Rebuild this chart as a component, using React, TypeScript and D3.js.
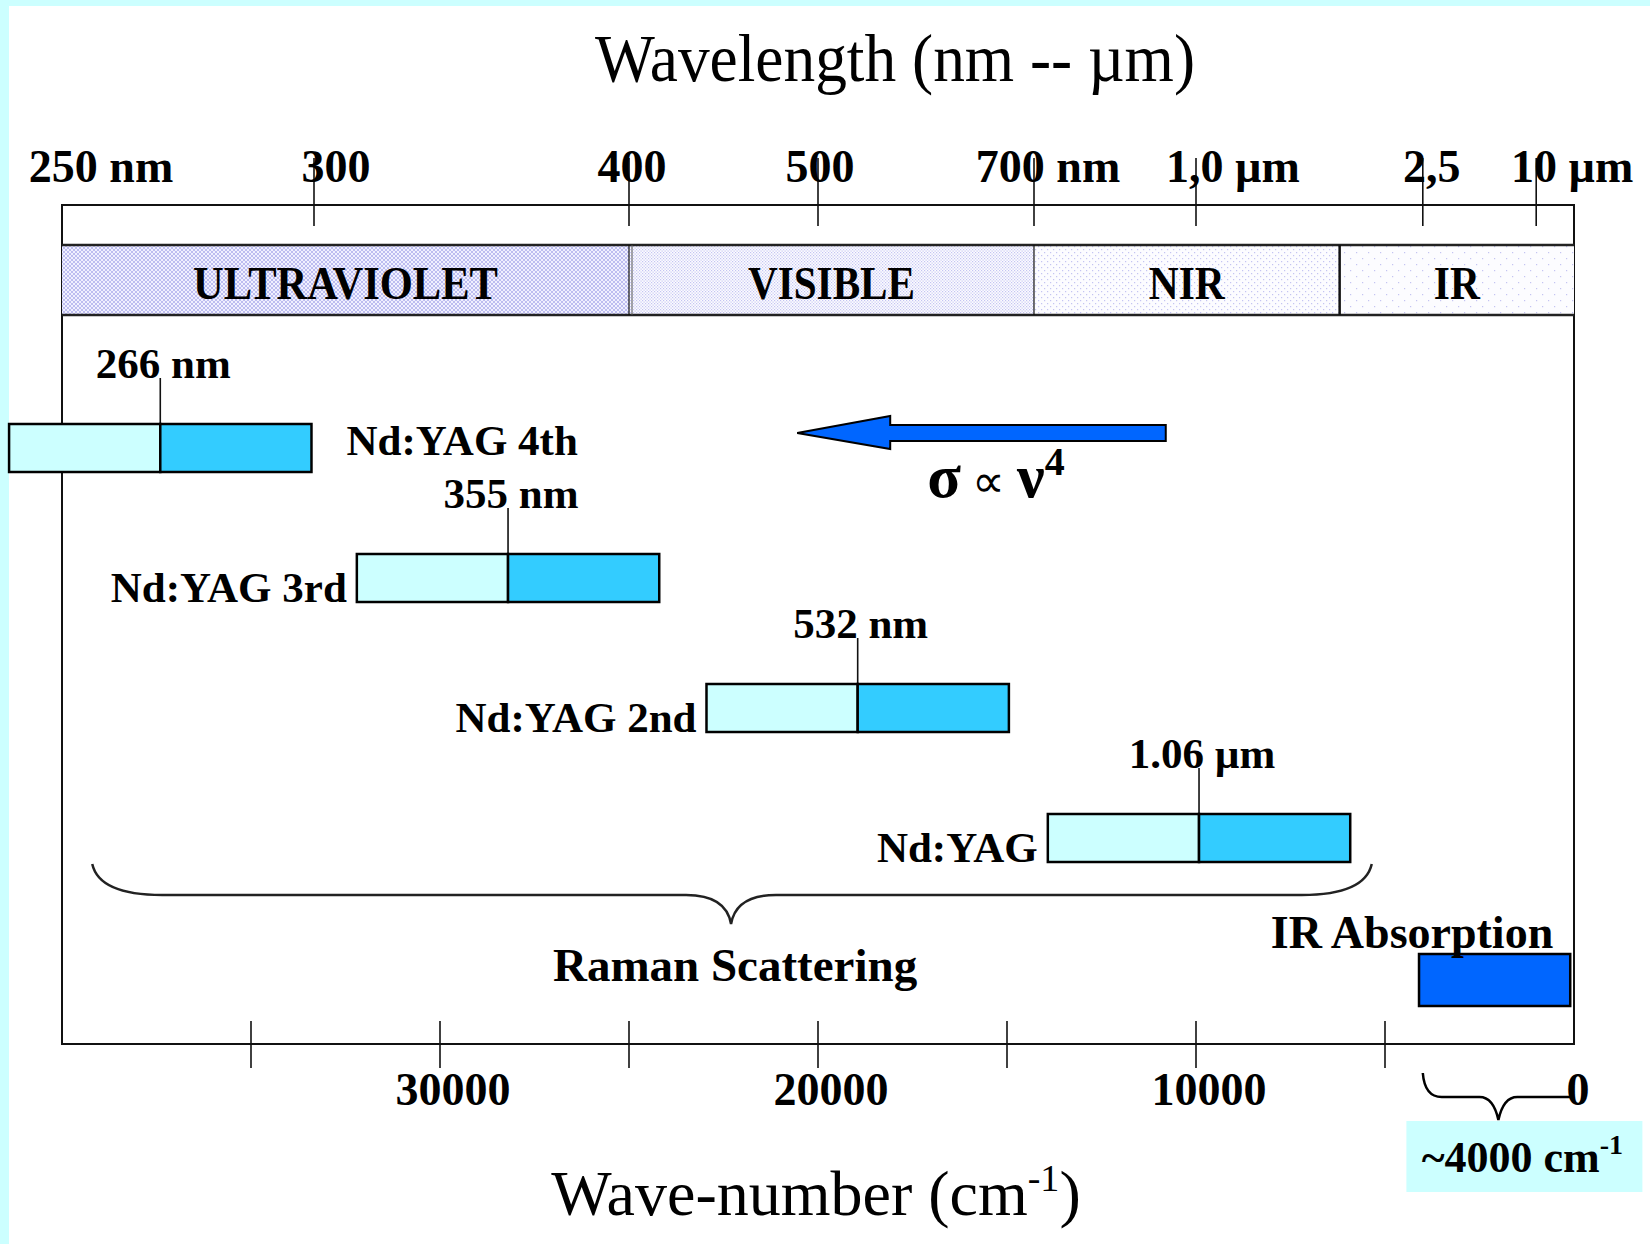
import * as d3 from "d3";
import { useEffect, useRef } from "react";

const WIDTH = 1650;
const HEIGHT = 1244;
const FONT = "'Liberation Serif', 'Times New Roman', serif";

// top axis: wavelengths, placed on the wavenumber scale (1e7 / nm)
const wavelengthNm = [250, 300, 400, 500, 700, 1000, 2500, 10000];
const wavelengthLabels = ["250 nm", "300", "400", "500", "700 nm", "1,0 µm", "2,5", "10 µm"];
const wavelengthLabelDx = [39, 22, 3, 2, 14, 37, 9, 36];

// spectral regions, edges in cm-1
const regionNames = ["ULTRAVIOLET", "VISIBLE", "NIR", "IR"];
const regionEdges = [40000, 25000, 14286, 6200, 0];
const regionPatterns = ["uv", "vis", "nir", "ir"];
const regionTextLength = [305, 167, 76, 46];

// lasers: excitation line (cm-1) with a +-4000 cm-1 Raman window
const laserNames = ["Nd:YAG 4th", "Nd:YAG 3rd", "Nd:YAG 2nd", "Nd:YAG"];
const laserLines = ["266 nm", "355 nm", "532 nm", "1.06 µm"];
const laserWavenumbers = [37400, 28200, 18950, 9920];
const ramanWindow = 4000;

const irAbsorption = [4100, 100];
const arrowSpan = [10800, 20550]; // tail -> head, cm-1
const ramanBrace = [39200, 22300, 5350]; // left, tip, right
const irBrace = [4000, 2000, 0];

const wavenumberTicks = [35000, 30000, 25000, 20000, 15000, 10000, 5000];
const wavenumberLabels = [30000, 20000, 10000, 0];

function bracePath(xl: number, xt: number, xr: number, yEnd: number, yMid: number, yTip: number, curlRight = true) {
    const curl = Math.min(70, (xt - xl) / 4);
    const cusp = Math.min(45, (xt - xl) / 4);
    const p = d3.path();
    p.moveTo(xl, yEnd);
    p.quadraticCurveTo(xl + curl * 0.1, yMid, xl + curl, yMid);
    p.lineTo(xt - cusp, yMid);
    p.quadraticCurveTo(xt - 5, yMid, xt, yTip);
    p.quadraticCurveTo(xt + 5, yMid, xt + cusp, yMid);
    if (curlRight) {
        p.lineTo(xr - curl, yMid);
        p.quadraticCurveTo(xr - curl * 0.1, yMid, xr, yEnd);
    } else {
        p.lineTo(xr, yMid);
    }
    return p.toString();
}

export default function App() {
    const svgRef = useRef<SVGSVGElement | null>(null);

    useEffect(() => {
        if (!svgRef.current) return;
        const svg = d3.select(svgRef.current);
        svg.selectAll("*").remove();

        const x = d3.scaleLinear().domain([40000, 0]).range([62, 1574]);
        const box = { top: 205, bottom: 1044 };
        const band = { top: 245, bottom: 315 };
        const row = d3.scalePoint<string>().domain(laserNames).range([424, 814]);
        const barH = 48;

        svg.attr("width", WIDTH).attr("height", HEIGHT).style("font-family", FONT);

        // page
        svg.append("rect").attr("width", WIDTH).attr("height", HEIGHT).attr("fill", "#fff");
        svg.append("rect").attr("width", 9).attr("height", HEIGHT).attr("fill", "#ccffff");
        svg.append("rect").attr("width", WIDTH).attr("height", 6).attr("fill", "#ccffff");

        // fill patterns for the region band
        const defs = svg.append("defs");
        const uv = defs.append("pattern").attr("id", "uv").attr("patternUnits", "userSpaceOnUse").attr("width", 4).attr("height", 4);
        uv.append("rect").attr("width", 4).attr("height", 4).attr("fill", "#f0f0ff");
        uv.append("path").attr("d", "M0,0L4,4M4,0L0,4").attr("stroke", "#b8b8ee").attr("stroke-width", 0.9);
        const dots = (id: string, size: number, color: string) => {
            const p = defs.append("pattern").attr("id", id).attr("patternUnits", "userSpaceOnUse").attr("width", size).attr("height", size);
            p.append("rect").attr("width", size).attr("height", size).attr("fill", "#fcfcff");
            p.append("rect").attr("width", 1.2).attr("height", 1.2).attr("fill", color);
            p.append("rect").attr("x", size / 2).attr("y", size / 2).attr("width", 1.2).attr("height", 1.2).attr("fill", color);
        };
        dots("vis", 3, "#c4c4f2");
        dots("nir", 6, "#c4c4f2");
        dots("ir", 12, "#c4c4f2");

        // titles
        svg.append("text")
            .attr("x", 895)
            .attr("y", 81)
            .attr("text-anchor", "middle")
            .attr("font-size", 68)
            .attr("textLength", 600)
            .attr("lengthAdjust", "spacingAndGlyphs")
            .text("Wavelength (nm -- µm)");

        const bottomTitle = svg.append("text").attr("x", 816).attr("y", 1215).attr("text-anchor", "middle").attr("font-size", 64);
        bottomTitle.append("tspan").text("Wave-number (cm");
        bottomTitle.append("tspan").attr("font-size", 38).attr("dy", -24).text("-1");
        bottomTitle.append("tspan").attr("dy", 24).text(")");

        // frame
        svg.append("rect")
            .attr("x", x(40000))
            .attr("y", box.top)
            .attr("width", x(0) - x(40000))
            .attr("height", box.bottom - box.top)
            .attr("fill", "none")
            .attr("stroke", "#111")
            .attr("stroke-width", 2);

        // region band
        regionNames.forEach((name, i) => {
            const x0 = x(regionEdges[i]);
            const x1 = x(regionEdges[i + 1]);
            svg.append("rect")
                .attr("x", x0)
                .attr("y", band.top)
                .attr("width", x1 - x0)
                .attr("height", band.bottom - band.top)
                .attr("fill", `url(#${regionPatterns[i]})`);
            svg.append("text")
                .attr("x", (x0 + x1) / 2)
                .attr("y", 299)
                .attr("text-anchor", "middle")
                .attr("font-size", 47)
                .attr("font-weight", "bold")
                .attr("textLength", regionTextLength[i])
                .attr("lengthAdjust", "spacingAndGlyphs")
                .text(name);
        });
        [band.top, band.bottom].forEach((y) => {
            svg.append("line").attr("x1", x(40000)).attr("x2", x(0)).attr("y1", y).attr("y2", y).attr("stroke", "#222").attr("stroke-width", 2.5);
        });
        const sepWidth = [1.2, 1.2, 2.5];
        regionEdges.slice(1, -1).forEach((edge, i) => {
            svg.append("line")
                .attr("x1", x(edge))
                .attr("x2", x(edge))
                .attr("y1", band.top)
                .attr("y2", band.bottom)
                .attr("stroke", "#111")
                .attr("stroke-width", sepWidth[i]);
            if (i === 0) {
                svg.append("line")
                    .attr("x1", x(edge) + 3)
                    .attr("x2", x(edge) + 3)
                    .attr("y1", band.top)
                    .attr("y2", band.bottom)
                    .attr("stroke", "#555")
                    .attr("stroke-width", 1);
            }
        });

        // top wavelength axis
        wavelengthNm.forEach((nm, i) => {
            const px = x(1e7 / nm);
            if (i > 0) {
                svg.append("line").attr("x1", px).attr("x2", px).attr("y1", 158).attr("y2", 226).attr("stroke", "#111").attr("stroke-width", 1.6);
            }
            svg.append("text")
                .attr("x", px + wavelengthLabelDx[i])
                .attr("y", 182)
                .attr("text-anchor", "middle")
                .attr("font-size", 46)
                .attr("font-weight", "bold")
                .text(wavelengthLabels[i]);
        });

        // laser Raman windows
        laserNames.forEach((name, i) => {
            const wn = laserWavenumbers[i];
            const c = x(wn);
            const lo = x(wn + ramanWindow);
            const hi = x(wn - ramanWindow);
            const y = row(name) ?? 0;

            svg.append("line").attr("x1", c).attr("x2", c).attr("y1", y - 46).attr("y2", y).attr("stroke", "#111").attr("stroke-width", 1.6);
            svg.append("text")
                .attr("x", c + 3)
                .attr("y", y - 46)
                .attr("text-anchor", "middle")
                .attr("font-size", 43)
                .attr("font-weight", "bold")
                .text(laserLines[i]);

            svg.append("rect").attr("x", lo).attr("y", y).attr("width", c - lo).attr("height", barH).attr("fill", "#ccffff").attr("stroke", "#000").attr("stroke-width", 2.5);
            svg.append("rect").attr("x", c).attr("y", y).attr("width", hi - c).attr("height", barH).attr("fill", "#33ccff").attr("stroke", "#000").attr("stroke-width", 2.5);

            const onRight = i === 0;
            svg.append("text")
                .attr("x", onRight ? hi + 35 : lo - 10)
                .attr("y", onRight ? y + 31 : y + 48)
                .attr("text-anchor", onRight ? "start" : "end")
                .attr("font-size", 43)
                .attr("font-weight", "bold")
                .text(name);
        });

        // sigma ~ nu^4 arrow
        const tail = x(arrowSpan[0]);
        const head = x(arrowSpan[1]);
        const ay = 433;
        const arrow = d3.path();
        arrow.moveTo(head, ay);
        arrow.lineTo(head + 93, ay - 17);
        arrow.lineTo(head + 93, ay - 8);
        arrow.lineTo(tail, ay - 8);
        arrow.lineTo(tail, ay + 8);
        arrow.lineTo(head + 93, ay + 8);
        arrow.lineTo(head + 93, ay + 16);
        arrow.closePath();
        svg.append("path").attr("d", arrow.toString()).attr("fill", "#0066ff").attr("stroke", "#000").attr("stroke-width", 2);

        const law = svg.append("text").attr("x", head + 130).attr("y", 497).attr("font-weight", "bold");
        law.append("tspan").attr("font-size", 62).text("σ");
        law.append("tspan").attr("font-size", 46).attr("font-weight", "normal").text(" ∝ ");
        law.append("tspan").attr("font-size", 62).text("ν");
        law.append("tspan").attr("font-size", 40).attr("dy", -22).text("4");

        // Raman brace
        svg.append("path")
            .attr("d", bracePath(x(ramanBrace[0]), x(ramanBrace[1]), x(ramanBrace[2]), 864, 895, 924))
            .attr("fill", "none")
            .attr("stroke", "#222")
            .attr("stroke-width", 2.5);
        svg.append("text")
            .attr("x", x(ramanBrace[1]) + 4)
            .attr("y", 981)
            .attr("text-anchor", "middle")
            .attr("font-size", 47)
            .attr("font-weight", "bold")
            .text("Raman Scattering");

        // IR absorption
        svg.append("rect")
            .attr("x", x(irAbsorption[0]))
            .attr("y", 954)
            .attr("width", x(irAbsorption[1]) - x(irAbsorption[0]))
            .attr("height", 52)
            .attr("fill", "#0066ff")
            .attr("stroke", "#000")
            .attr("stroke-width", 2.5);
        svg.append("text")
            .attr("x", x(irAbsorption[1]) - 17)
            .attr("y", 948)
            .attr("text-anchor", "end")
            .attr("font-size", 46)
            .attr("font-weight", "bold")
            .text("IR Absorption");

        // bottom wavenumber axis
        wavenumberTicks.forEach((t) => {
            svg.append("line").attr("x1", x(t)).attr("x2", x(t)).attr("y1", 1021).attr("y2", 1068).attr("stroke", "#111").attr("stroke-width", 1.6);
        });
        wavenumberLabels.forEach((v) => {
            svg.append("text")
                .attr("x", x(v) + (v === 0 ? 4 : 13))
                .attr("y", 1105)
                .attr("text-anchor", "middle")
                .attr("font-size", 46)
                .attr("font-weight", "bold")
                .text(String(v));
        });

        // ~4000 cm-1 brace and note
        const tipX = x(irBrace[1]);
        svg.append("path")
            .attr("d", bracePath(x(irBrace[0]), tipX, x(irBrace[2]), 1073, 1097, 1120, false))
            .attr("fill", "none")
            .attr("stroke", "#000")
            .attr("stroke-width", 2.5);
        svg.append("rect").attr("x", tipX - 92).attr("y", 1121).attr("width", 236).attr("height", 71).attr("fill", "#ccffff");
        const note = svg.append("text").attr("x", tipX + 24).attr("y", 1172).attr("text-anchor", "middle").attr("font-weight", "bold");
        note.append("tspan").attr("font-size", 44).text("~4000 cm");
        note.append("tspan").attr("font-size", 28).attr("dy", -18).text("-1");

        return () => {
            svg.selectAll("*").remove();
        };
    }, []);

    return (
        <div style={{ position: "absolute", left: 0, top: 0, width: WIDTH, height: HEIGHT }}>
            <svg ref={svgRef} style={{ display: "block" }} />
        </div>
    );
}
